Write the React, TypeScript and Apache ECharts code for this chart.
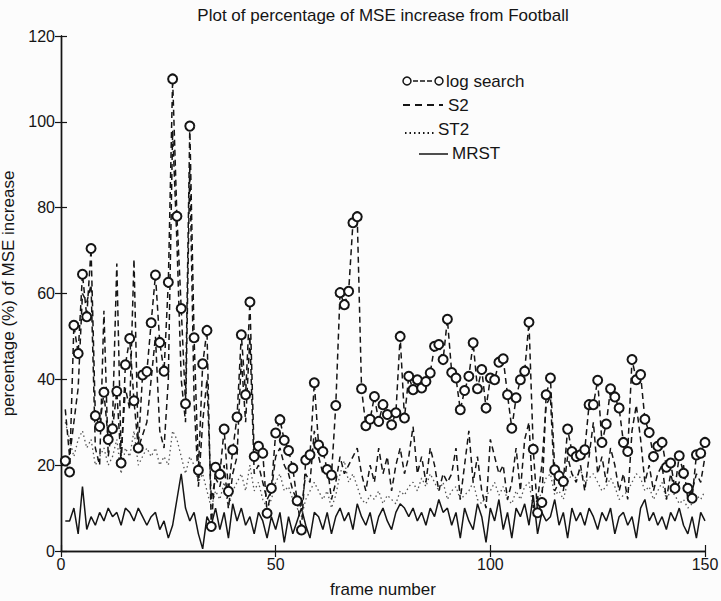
import React, { useEffect, useRef } from "react";
import * as echarts from "echarts";

const TITLE = "Plot of percentage of MSE increase from Football";
const X_NAME = "frame number";
const Y_NAME = "percentage (%) of MSE increase";
const SERIES_NAMES = ["log search", "S2", "ST2", "MRST"];

const logSearch = [
  21, 18.4, 52.6, 46, 64.5, 54.6, 70.5, 31.5, 29, 37,
  26, 28.5, 37.2, 20.5, 43.4, 49.5, 35, 24, 41, 41.8,
  53.2, 64.3, 48.6, 41.9, 62.6, 110, 78, 56.5, 34.3, 99,
  49.7, 18.8, 43.6, 51.4, 5.7, 19.5, 17.9, 28.4, 13.9, 23.6,
  31.2, 50.4, 36.4, 58, 22, 24.4, 22.8, 8.8, 14.6, 27.5,
  30.6, 25.8, 23.4, 19.3, 11.7, 4.9, 21.2, 22.4, 39.2, 24.7,
  23.2, 19, 17.7, 33.9, 60.2, 57.4, 60.5, 76.5, 77.9, 37.8,
  29.2, 30.7, 36, 30.2, 34.1, 31.8, 29.4, 32.2, 50, 31,
  40.7, 37.6, 39.9, 38, 39.5, 41.5, 47.7, 48.1, 44.6, 54,
  41.6, 40.3, 32.9, 37.4, 40.7, 48.5, 37.8, 42.3, 33.3, 40.3,
  39.9, 44, 44.8, 36.4, 28.6, 35.7, 39.9, 41.9, 53.3, 23.7,
  8.9, 11.3, 36.4, 40.3, 18.9, 17.5, 16.2, 28.4, 23.2, 22,
  22.4, 23.6, 34.1, 34.1, 39.8, 25.3, 29.6, 37.8, 35.9, 33.3,
  25.3, 23.2, 44.6, 39.9, 41.1, 30.7, 27.6, 22, 24.4, 25.3,
  19.5, 20.5, 14.6, 22.2, 18.1, 14.6, 12.3, 22.4, 22.8, 25.3,
];

const s2 = [
  33, 22, 30, 38, 60, 58, 62, 24, 20, 56,
  22, 30, 67, 22, 38, 33, 68, 24, 27, 30,
  40, 50, 28, 24, 40, 98, 72, 40, 30, 90,
  35, 15, 30, 40, 12, 17, 15, 20, 10, 18,
  22, 45, 30, 50, 18, 20, 16, 12, 14, 22,
  24, 20, 18, 14, 12, 10, 18, 16, 28, 22,
  18, 20, 12, 16, 22, 18, 20, 22, 24, 18,
  14, 20, 16, 24, 18, 22, 14, 20, 24, 18,
  22, 29, 18, 22, 16, 24, 20, 14, 18, 16,
  18, 24, 12, 20, 28, 16, 22, 14, 10, 26,
  22, 18, 20, 12, 16, 24, 14, 26, 30, 10,
  12, 20, 34, 36, 14, 16, 14, 22, 18, 16,
  20, 14, 22, 30, 18, 22, 16, 24, 20, 14,
  18, 12, 28, 34, 26, 16, 20, 14, 18, 20,
  12, 18, 14, 16, 20, 12, 14, 18, 16, 22,
];

const st2 = [
  30, 26, 22, 26, 28, 24, 26, 20, 22, 24,
  20, 22, 26, 18, 24, 22, 28, 20, 22, 24,
  22, 24, 20, 22, 20, 28, 26, 22, 18, 22,
  20, 16, 18, 14, 10, 14, 12, 16, 10, 14,
  16, 18, 14, 20, 14, 16, 12, 10, 12, 16,
  18, 14, 15, 12, 10, 8, 12, 14, 16, 14,
  12, 14, 10, 13, 18, 21, 16, 18, 15, 12,
  11, 13, 12, 14, 11, 13, 12, 11, 14, 13,
  15, 16, 14, 17, 15, 18, 16, 14, 16, 12,
  14, 15, 12, 13, 14, 16, 12, 11, 13, 14,
  16, 13, 15, 12, 11, 14, 12, 15, 16, 10,
  11, 14, 17, 18, 13, 14, 12, 16, 18, 17,
  19, 16, 17, 18, 16, 14, 15, 17, 15, 12,
  13, 14, 16, 18, 17, 14, 15, 12, 14, 16,
  12, 14, 13, 11, 12, 10, 11, 13, 12, 14,
];

const mrst = [
  7, 7, 10, 4, 15, 5, 8, 6, 9, 7,
  10, 8, 9, 6, 10, 9, 7, 10, 8, 6,
  8, 9, 5, 7, 3, 6, 12, 18, 10, 7,
  9, 4, 0.5, 8, 6, 10, 5, 9, 3, 11,
  7, 10, 6, 8, 4, 9, 7, 3, 8, 5,
  9, 2, 8, 4, 7, 10, 6, 3, 9, 8,
  5, 9, 4, 8, 10, 7, 9, 5, 11, 8,
  6, 9, 4, 8, 10, 7, 5, 9, 11, 10,
  8, 10, 7, 9, 6, 10, 8, 12, 9, 10,
  6, 9, 3, 10, 7, 5, 11, 8, 2, 10,
  7, 12, 5, 9, 3, 10, 8, 11, 6, 13,
  4, 9, 7, 8, 12, 6, 9, 3, 10, 7,
  9, 6, 10, 8, 5, 9, 7, 10, 4, 8,
  9, 6, 8, 3, 10, 12, 7, 9, 6, 8,
  5, 9, 7, 10, 6, 4, 8, 3, 9, 7,
];

const X_TICKS = [0, 50, 100, 150];
const Y_TICKS = [0, 20, 40, 60, 80, 100, 120];

const toPairs = (arr: number[]) => arr.map((v, i) => [i + 1, v]);

const INK = "#151515";
const FONT = "Liberation Sans, Arial, Helvetica, sans-serif";

export default function App() {
  const ref = useRef<HTMLDivElement>(null);

  useEffect(() => {
    if (!ref.current) return;
    const chart = echarts.init(ref.current, undefined, { renderer: "svg" });

    const axisCommon = {
      axisLine: { show: true, lineStyle: { color: INK, width: 1.4 } },
      axisTick: { show: true, inside: true, length: 6, lineStyle: { color: INK, width: 1.2 } },
      splitLine: { show: false },
    };

    const legendX = 403;
    const rows = [81, 105, 129, 153];
    const legendFont = `17px ${FONT}`;

    chart.setOption({
      animation: false,
      backgroundColor: "#fcfcfc",
      grid: {
        left: 61,
        right: 16,
        top: 36,
        bottom: 50,
        containLabel: false,
        outerBoundsMode: "none",
      },
      xAxis: [
        {
          type: "value",
          min: X_TICKS[0],
          max: X_TICKS[X_TICKS.length - 1],
          interval: 50,
          name: X_NAME,
          nameLocation: "middle",
          nameGap: 30,
          nameTextStyle: { fontFamily: FONT, fontSize: 17, color: INK },
          axisLabel: { fontFamily: FONT, fontSize: 16, color: INK, margin: 5 },
          ...axisCommon,
        },
        {
          type: "value",
          position: "top",
          min: 0,
          max: 150,
          interval: 50,
          axisLabel: { show: false },
          ...axisCommon,
        },
      ],
      yAxis: [
        {
          type: "value",
          min: Y_TICKS[0],
          max: Y_TICKS[Y_TICKS.length - 1],
          interval: 20,
          name: Y_NAME,
          nameLocation: "middle",
          nameGap: 32,
          nameTextStyle: { fontFamily: FONT, fontSize: 17, color: INK },
          axisLabel: { fontFamily: FONT, fontSize: 16, color: INK, margin: 6 },
          ...axisCommon,
        },
        {
          type: "value",
          position: "right",
          min: 0,
          max: 120,
          interval: 20,
          axisLabel: { show: false },
          ...axisCommon,
        },
      ],
      series: [
        {
          name: SERIES_NAMES[3],
          type: "line",
          data: toPairs(mrst),
          symbol: "none",
          lineStyle: { color: INK, width: 1.5, type: "solid" },
          z: 2,
        },
        {
          name: SERIES_NAMES[2],
          type: "line",
          data: toPairs(st2),
          symbol: "none",
          lineStyle: { color: "#555", width: 1.3, type: [1.5, 3] },
          z: 3,
        },
        {
          name: SERIES_NAMES[1],
          type: "line",
          data: toPairs(s2),
          symbol: "none",
          lineStyle: { color: INK, width: 1.5, type: [6, 4] },
          z: 4,
        },
        {
          name: SERIES_NAMES[0],
          type: "line",
          data: toPairs(logSearch),
          symbol: "emptyCircle",
          symbolSize: 9,
          itemStyle: { color: INK, borderWidth: 1.5 },
          lineStyle: { color: INK, width: 1.5, type: [6, 4] },
          z: 5,
        },
      ],
      graphic: [
        {
          type: "text",
          x: 383,
          y: 15,
          style: {
            text: TITLE,
            font: `17px ${FONT}`,
            fill: INK,
            textAlign: "center",
            textVerticalAlign: "middle",
          },
        },
        // legend: log search
        { type: "circle", shape: { cx: legendX + 4, cy: rows[0], r: 4 }, style: { fill: "none", stroke: INK, lineWidth: 1.5 } },
        { type: "line", shape: { x1: legendX + 10, y1: rows[0], x2: legendX + 30, y2: rows[0] }, style: { stroke: INK, lineWidth: 1.5, lineDash: [5, 2] } },
        { type: "circle", shape: { cx: legendX + 36, cy: rows[0], r: 4 }, style: { fill: "none", stroke: INK, lineWidth: 1.5 } },
        { type: "text", x: 446, y: rows[0], style: { text: SERIES_NAMES[0], font: legendFont, fill: INK, textVerticalAlign: "middle" } },
        // S2
        { type: "line", shape: { x1: legendX, y1: rows[1], x2: legendX + 40, y2: rows[1] }, style: { stroke: INK, lineWidth: 1.8, lineDash: [7, 5] } },
        { type: "text", x: 448, y: rows[1], style: { text: SERIES_NAMES[1], font: legendFont, fill: INK, textVerticalAlign: "middle" } },
        // ST2
        { type: "line", shape: { x1: legendX + 2, y1: rows[2] + 4, x2: legendX + 32, y2: rows[2] + 4 }, style: { stroke: INK, lineWidth: 1.8, lineDash: [1.5, 3] } },
        { type: "text", x: 438, y: rows[2], style: { text: SERIES_NAMES[2], font: legendFont, fill: INK, textVerticalAlign: "middle" } },
        // MRST
        { type: "line", shape: { x1: legendX + 16, y1: rows[3] + 1, x2: legendX + 45, y2: rows[3] + 1 }, style: { stroke: INK, lineWidth: 1.5 } },
        { type: "text", x: 452, y: rows[3], style: { text: SERIES_NAMES[3], font: legendFont, fill: INK, textVerticalAlign: "middle" } },
      ],
    });

    return () => chart.dispose();
  }, []);

  return (
    <div
      ref={ref}
      style={{ position: "absolute", left: 0, top: 0, width: 721, height: 601 }}
    />
  );
}
